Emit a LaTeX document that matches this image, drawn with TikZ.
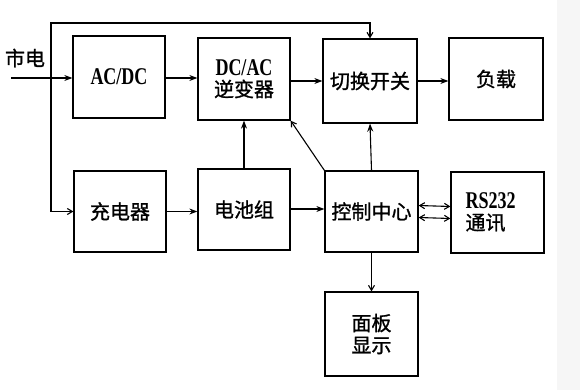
\documentclass[tikz,border=0pt]{standalone}
\usepackage{fontspec}
\setmainfont{Liberation Serif}
\newfontfamily\cjk{Noto Sans CJK SC}[FakeBold=1.2]
\newfontfamily\latn{Liberation Serif}[Scale=1]
\usetikzlibrary{arrows.meta}
\newcommand{\lat}[1]{\scalebox{0.75}[1]{\latn\bfseries #1}}
\begin{document}
\begin{tikzpicture}[x=1pt,y=-1pt,
  blk/.style={draw,line width=1.3pt,minimum width=92pt,minimum height=82pt,inner sep=0pt,font=\cjk\fontsize{20}{24}\selectfont,align=center},
  ln/.style={line width=1.1pt},
  fa/.style={ln,-{Stealth[length=8pt,width=6pt]}},
  oa/.style={ln,-{Straight Barb[length=5pt,width=6pt]}},
  da/.style={ln,{Straight Barb[length=5pt,width=6pt]}-{Straight Barb[length=5pt,width=6pt]}}]
\useasboundingbox (0,0) rectangle (580,390);
\fill[white] (0,0) rectangle (580,390);
\fill[gray!7] (557,0) rectangle (580,390);
\node[blk] (acdc) at (119,77) {\fontsize{24}{26}\selectfont\lat{AC/DC}};
\node[blk] (dcac) at (244,79) {\fontsize{24}{22}\selectfont\lat{DC/AC}\\[-3pt]逆变器};
\node[blk,minimum width=94pt,minimum height=84pt] (sw) at (370,81) {切换开关};
\node[blk,minimum width=94pt] (load) at (496,79) {负载};
\node[blk,minimum height=81pt] (chg) at (120,211.5) {充电器};
\node[blk,minimum height=81pt] (bat) at (244,209.5) {电池组};
\node[blk,minimum width=93pt,minimum height=81pt] (ctrl) at (371.5,211.5) {控制中心};
\node[blk,minimum width=93pt,minimum height=81pt,align=left] (rs) at (497.5,212.5) {\fontsize{24}{22}\selectfont\lat{RS232}\\[-3pt]通讯\hspace*{1.2em}};
\node[blk,minimum width=93pt,minimum height=84pt,font=\cjk\fontsize{20}{22}\selectfont] (pan) at (371.5,334) {面板\\显示};
\node[font=\cjk\fontsize{20}{24}\selectfont,inner sep=0pt] (mains) at (25,58) {市电};
\coordinate (src) at (11,78);
\coordinate (j) at (51,78);
\coordinate (topc) at (0,23);
\draw[fa] (src) -- (acdc.west |- src);
\draw[oa] (j) -- (j |- topc) -| (sw.north);
\draw[oa] (j) |- (chg.west);
\draw[fa] (acdc.east |- src) -- (dcac.west |- src);
\draw[fa] (dcac.east |- sw) -- (sw.west);
\draw[fa] (sw.east) -- (load.west |- sw.east);
\draw[fa] (chg.east) -- (bat.west |- chg.east);
\draw[fa] (bat.north) -- (dcac.south);
\draw[fa] (bat.east |- {0,209}) -- (ctrl.west |- {0,209});
\draw[fa] (ctrl.north) -- (sw.south);
\draw[oa] (ctrl.north west) -- (dcac.south east);
\draw[da] ([yshift=-6pt]ctrl.east) -- ([yshift=-6pt]rs.west);
\draw[da] ([yshift=6pt]ctrl.east) -- ([yshift=6pt]rs.west);
\draw[oa] (ctrl.south) -- (pan.north);
\end{tikzpicture}
\end{document}
